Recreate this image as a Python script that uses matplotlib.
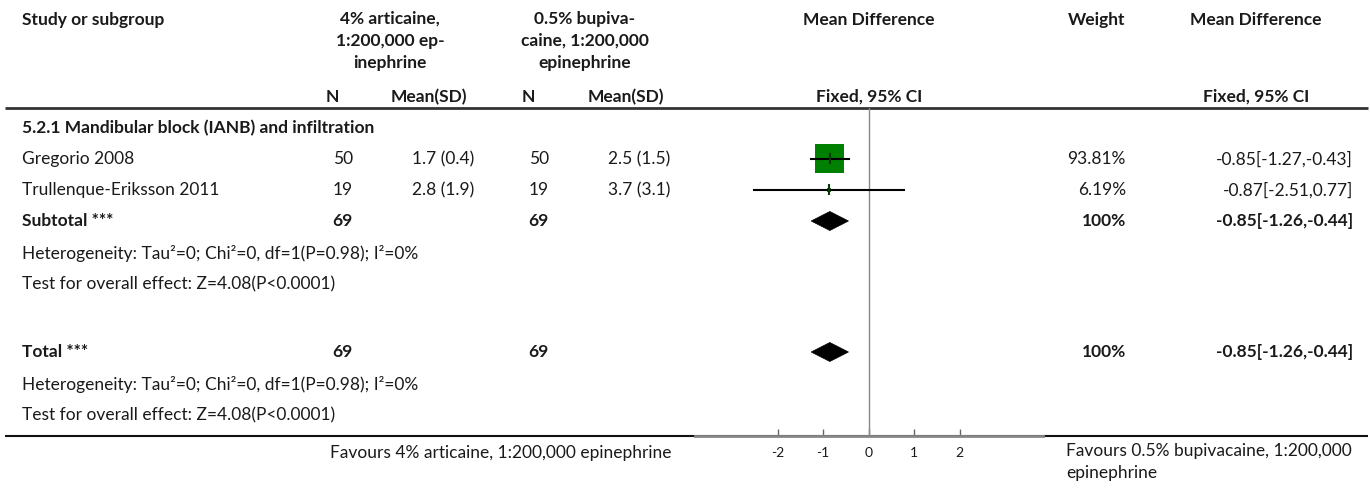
import matplotlib
matplotlib.use("Agg")
import matplotlib.pyplot as plt
from matplotlib.patches import Rectangle, Polygon

# ---------------- data ----------------
studies = ["Gregorio 2008", "Trullenque-Eriksson 2011"]
n_exp = [50, 19]
mean_exp = ["1.7 (0.4)", "2.8 (1.9)"]
n_ctl = [50, 19]
mean_ctl = ["2.5 (1.5)", "3.7 (3.1)"]
md = [-0.85, -0.87]
ci_lo = [-1.27, -2.51]
ci_hi = [-0.43, 0.77]
weights = [93.81, 6.19]

subgroup_title = "5.2.1 Mandibular block (IANB) and infiltration"
sub_n_exp, sub_n_ctl = 69, 69
sub_md, sub_lo, sub_hi = -0.85, -1.26, -0.44
tot_md, tot_lo, tot_hi = -0.85, -1.26, -0.44
heterogeneity = "Heterogeneity: Tau\u00b2=0; Chi\u00b2=0, df=1(P=0.98); I\u00b2=0%"
overall = "Test for overall effect: Z=4.08(P<0.0001)"
xticks = [-2, -1, 0, 1, 2]
fav_left = "Favours 4% articaine, 1:200,000 epinephrine"
fav_right = "Favours 0.5% bupivacaine, 1:200,000\nepinephrine"

# ---------------- font ----------------
plt.rcParams['font.family'] = ['Lato', 'DejaVu Sans']
FS = 12.5
TC = "#1a1a1a"

W, H = 1370, 490
fig = plt.figure(figsize=(W / 100, H / 100), dpi=100)
ax = fig.add_axes([0, 0, 1, 1])
ax.set_xlim(0, W)
ax.set_ylim(H, 0)
ax.axis("off")

def t(x, y, s, ha="left", bold=False, fs=FS, va="center"):
    ax.text(x, y, s, ha=ha, va=va, fontsize=fs, color=TC,
            fontweight="bold" if bold else "normal", linespacing=1.45)

# header
t(22, 20, "Study or subgroup", bold=True)
t(390, 11, "4% articaine,\n1:200,000 ep-\ninephrine", ha="center", bold=True, va="top")
t(585, 11, "0.5% bupiva-\ncaine, 1:200,000\nepinephrine", ha="center", bold=True, va="top")
t(869, 20, "Mean Difference", ha="center", bold=True)
t(1125, 20, "Weight", ha="right", bold=True)
t(1256, 20, "Mean Difference", ha="center", bold=True)
t(332, 97, "N", ha="center", bold=True)
t(429, 97, "Mean(SD)", ha="center", bold=True)
t(528, 97, "N", ha="center", bold=True)
t(626, 97, "Mean(SD)", ha="center", bold=True)
t(869, 97, "Fixed, 95% CI", ha="center", bold=True)
t(1256, 97, "Fixed, 95% CI", ha="center", bold=True)

ax.plot([5, 1368], [108, 108], color="#333333", lw=2, solid_capstyle="butt")
ax.plot([5, 1368], [436, 436], color="#111111", lw=1.5, solid_capstyle="butt")

# rows
t(22, 128, subgroup_title, bold=True)
row_y = [159, 190]
for i, y in enumerate(row_y):
    t(22, y, studies[i])
    t(353, y, str(n_exp[i]), ha="right")
    t(474, y, mean_exp[i], ha="right")
    t(549, y, str(n_ctl[i]), ha="right")
    t(670, y, mean_ctl[i], ha="right")
    t(1126, y, f"{weights[i]:.2f}%", ha="right")
    t(1353, y, f"{md[i]:.2f}[{ci_lo[i]:.2f},{ci_hi[i]:.2f}]", ha="right")

sub_y, tot_y = 221, 352
t(22, sub_y, "Subtotal ***", bold=True)
t(353, sub_y, str(sub_n_exp), ha="right", bold=True)
t(549, sub_y, str(sub_n_ctl), ha="right", bold=True)
t(1126, sub_y, "100%", ha="right", bold=True)
t(1353, sub_y, f"{sub_md:.2f}[{sub_lo:.2f},{sub_hi:.2f}]", ha="right", bold=True)
t(22, 253, heterogeneity)
t(22, 284, overall)

t(22, tot_y, "Total ***", bold=True)
t(353, tot_y, str(sub_n_exp), ha="right", bold=True)
t(549, tot_y, str(sub_n_ctl), ha="right", bold=True)
t(1126, tot_y, "100%", ha="right", bold=True)
t(1353, tot_y, f"{tot_md:.2f}[{tot_lo:.2f},{tot_hi:.2f}]", ha="right", bold=True)
t(22, 384, heterogeneity)
t(22, 415, overall)

t(672, 453, fav_left, ha="right")
t(1066, 443, fav_right, ha="left", va="top")

# ---------------- forest axes ----------------
px0, px1, py0, py1 = 695, 1043, 108, 436
fx = fig.add_axes([px0 / W, 1 - py1 / H, (px1 - px0) / W, (py1 - py0) / H])
unit = 45.5
zero = 868.5
fx.set_xlim((px0 - zero) / unit, (px1 - zero) / unit)
fx.set_ylim(py1, py0)
fx.patch.set_alpha(0)
for s in ["top", "left", "right"]:
    fx.spines[s].set_visible(False)
fx.spines["bottom"].set_color("#888888")
fx.spines["bottom"].set_linewidth(2)
fx.set_yticks([])
fx.set_xticks(xticks)
fx.set_xticklabels([str(v) for v in xticks], fontsize=10, color=TC)
fx.tick_params(axis="x", direction="in", length=5, width=1, color="#666666", pad=8)

fx.axvline(0, color="#888888", lw=1)

wmax = max(weights)
for i, y in enumerate(row_y):
    fx.plot([ci_lo[i], ci_hi[i]], [y, y], color="black", lw=1.5, zorder=3)
    side = 29 * (weights[i] / wmax) ** 0.73
    fx.add_patch(Rectangle((md[i] - side / 2 / unit, y - side / 2), side / unit, side,
                           facecolor="#008000", edgecolor="none", zorder=2))
    fx.plot([md[i], md[i]], [y - 4.5, y + 4.5], color="#0a3a0a", lw=1.5, zorder=4)

for (m, lo, hi, y) in [(sub_md, sub_lo, sub_hi, sub_y), (tot_md, tot_lo, tot_hi, tot_y)]:
    fx.add_patch(Polygon([[lo, y], [m, y - 9.5], [hi, y], [m, y + 9.5]], closed=True,
                         facecolor="black", edgecolor="black", lw=0.5, zorder=3))

fig.savefig("out.png", dpi=100)
